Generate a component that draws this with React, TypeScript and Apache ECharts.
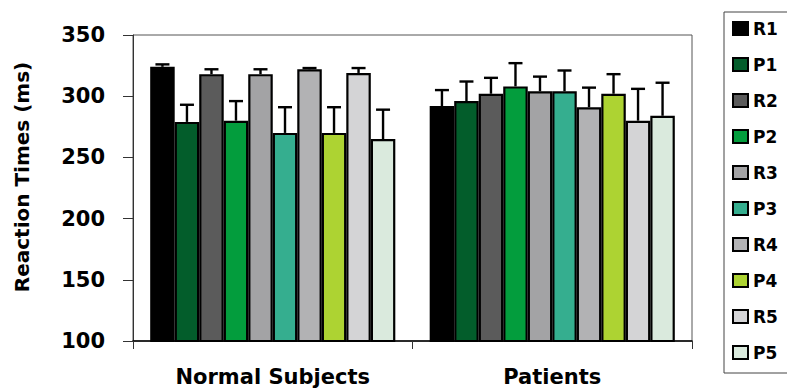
import React, { useEffect, useRef } from "react";
import * as echarts from "echarts";

const categories = ["Normal Subjects", "Patients"];
const seriesNames = ["R1", "P1", "R2", "P2", "R3", "P3", "R4", "P4", "R5", "P5"];
const normalMeans = [324, 279, 318, 280, 318, 270, 322, 270, 319, 265];
const normalErrors = [2, 14, 4, 16, 4, 21, 1, 21, 4, 24];
const patientMeans = [292, 296, 302, 308, 304, 304, 291, 302, 280, 284];
const patientErrors = [13, 16, 13, 19, 12, 17, 16, 16, 26, 27];
const seriesColors = [
  "#000000", "#035d2b", "#5b5b5b", "#039d3d", "#a3a3a5",
  "#35ae8f", "#b2b2b4", "#add332", "#d4d4d6", "#daeadd",
];
const yTicks = { min: 100, max: 350, interval: 50 };

const FONT = "'DejaVu Sans', sans-serif";
const CAT_GAP = 0.123;

export default function App() {
  const ref = useRef<HTMLDivElement>(null);

  useEffect(() => {
    if (!ref.current) return;
    const chart = echarts.init(ref.current, null, { renderer: "svg" });

    const barSeries = seriesNames.map((name, i) => ({
      name,
      type: "bar",
      data: [normalMeans[i], patientMeans[i]],
      barGap: "0%",
      barCategoryGap: `${CAT_GAP * 100}%`,
      itemStyle: { color: seriesColors[i], borderColor: "#000", borderWidth: 2.2 },
      z: 2,
    }));

    const errData: number[][] = [];
    seriesNames.forEach((_, s) => {
      errData.push([0, normalMeans[s], normalMeans[s] + normalErrors[s], s]);
      errData.push([1, patientMeans[s], patientMeans[s] + patientErrors[s], s]);
    });

    const n = seriesNames.length;
    const errSeries = {
      type: "custom",
      name: "err",
      data: errData,
      encode: { x: 0, y: [1, 2] },
      z: 5,
      renderItem: (params: any, api: any) => {
        const c = api.value(0);
        const s = api.value(3);
        const base = api.coord([c, api.value(1)]);
        const top = api.coord([c, api.value(2)]);
        const bandW = api.size([1, 0])[0];
        const groupW = bandW * (1 - CAT_GAP);
        const barW = groupW / n;
        const cx = base[0] - groupW / 2 + (s + 0.5) * barW;
        const style = { stroke: "#000", lineWidth: 2.4 };
        return {
          type: "group",
          children: [
            { type: "line", shape: { x1: cx, y1: base[1], x2: cx, y2: top[1] }, style },
            { type: "line", shape: { x1: cx - 7, y1: top[1], x2: cx + 7, y2: top[1] }, style },
          ],
        };
      },
    };

    chart.setOption({
      animation: false,
      backgroundColor: "#fff",
      grid: {
        left: 133, right: 95, top: 35, bottom: 49,
        show: true, borderColor: "#555", borderWidth: 1, backgroundColor: "transparent",
      },
      legend: {
        data: seriesNames,
        orient: "vertical",
        left: 724,
        top: 12,
        padding: [8, 30, 12, 8],
        itemWidth: 15,
        itemHeight: 13,
        itemGap: 19,
        borderColor: "#444",
        borderWidth: 1,
        icon: "rect",
        textStyle: { fontFamily: FONT, fontWeight: "bold", fontSize: 17, color: "#000", lineHeight: 16 },
      },
      xAxis: {
        type: "category",
        data: categories,
        axisLine: { lineStyle: { color: "#000", width: 1.5 } },
        axisTick: { show: true, alignWithLabel: false, length: 8, lineStyle: { color: "#333" } },
        axisLabel: { margin: 25, fontFamily: FONT, fontWeight: "bold", fontSize: 21, color: "#000" },
      },
      yAxis: {
        type: "value",
        min: yTicks.min,
        max: yTicks.max,
        interval: yTicks.interval,
        axisLine: { show: true, lineStyle: { color: "#333", width: 1 } },
        axisTick: { show: true, length: 10, lineStyle: { color: "#333" } },
        splitLine: { show: false },
        axisLabel: { margin: 28, fontFamily: FONT, fontWeight: "bold", fontSize: 21, color: "#000" },
      },
      graphic: [
        {
          type: "text",
          x: 22,
          y: 177,
          rotation: Math.PI / 2,
          style: {
            text: "Reaction Times (ms)",
            fontFamily: FONT,
            fontWeight: "bold",
            fontSize: 20,
            fill: "#000",
            align: "center",
            verticalAlign: "middle",
          },
        },
      ],
      series: [...barSeries, errSeries],
    });

    return () => chart.dispose();
  }, []);

  return (
    <div
      ref={ref}
      style={{ position: "fixed", left: 0, top: 0, width: 787, height: 390, background: "#fff" }}
    />
  );
}
